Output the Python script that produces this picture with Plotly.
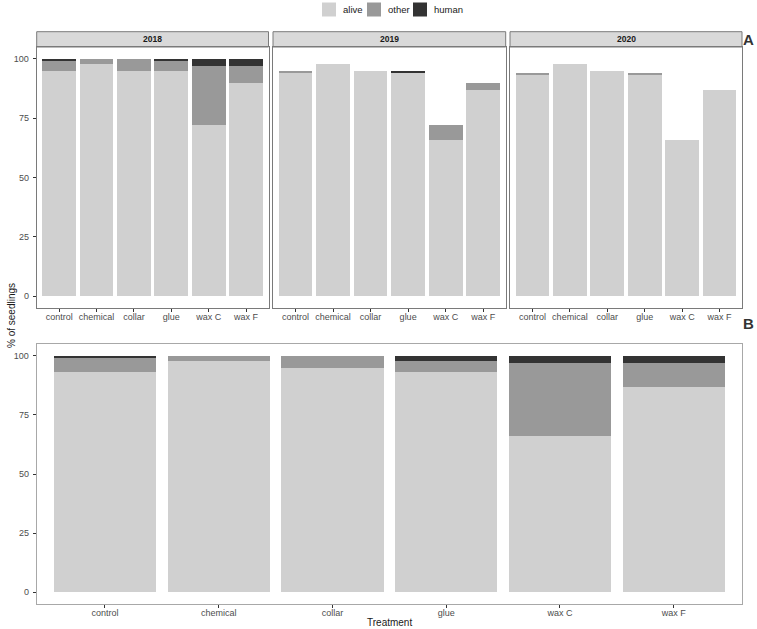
import plotly.graph_objects as go

# ---------------- data ----------------
treatments = ["control", "chemical", "collar", "glue", "wax C", "wax F"]
years = ["2018", "2019", "2020"]
series_names = ["alive", "other", "human"]

alive_2018 = [95, 98, 95, 95, 72, 90]
other_2018 = [4, 2, 5, 4, 25, 7]
human_2018 = [1, 0, 0, 1, 3, 3]

alive_2019 = [94, 98, 95, 94, 66, 87]
other_2019 = [1, 0, 0, 0, 6, 3]
human_2019 = [0, 0, 0, 1, 0, 0]

alive_2020 = [93, 98, 95, 93, 66, 87]
other_2020 = [1, 0, 0, 1, 0, 0]
human_2020 = [0, 0, 0, 0, 0, 0]

alive_all = [93, 98, 95, 93, 66, 87]
other_all = [6, 2, 5, 5, 31, 10]
human_all = [1, 0, 0, 2, 3, 3]

y_ticks = [0, 25, 50, 75, 100]

# ---------------- styling ----------------
W, H = 757, 629
colors = {"alive": "#d0d0d0", "other": "#999999", "human": "#333333"}
FONT = "Liberation Sans, Arial, sans-serif"
border_A = "#7a7a7a"
border_B = "#a8a8a8"


def px_x(v):
    return v / W


def px_y(v):
    return 1 - v / H


panel_x = [(36.7, 268.5), (273.0, 505.7), (510.0, 742.0)]
A_top, A_bot = 47.0, 308.0
strip_top = 31.7
B_x = (36.7, 742.0)
B_top, B_bot = 344.0, 604.0

fig = go.Figure()

panel_data = [
    (alive_2018, other_2018, human_2018),
    (alive_2019, other_2019, human_2019),
    (alive_2020, other_2020, human_2020),
    (alive_all, other_all, human_all),
]

for i, (a, o, h) in enumerate(panel_data):
    ax = "" if i == 0 else str(i + 1)
    for name, vals in zip(series_names, (a, o, h)):
        fig.add_trace(go.Bar(
            x=treatments, y=vals, name=name,
            marker=dict(color=colors[name], line=dict(width=0)),
            xaxis="x" + ax, yaxis="y" + ax, showlegend=False,
            hovertemplate="%{x}: %{y}%<extra>" + name + "</extra>",
        ))

tickfont = dict(family=FONT, size=9, color="#4d4d4d")

layout = dict(
    width=W, height=H,
    margin=dict(l=0, r=0, t=0, b=0),
    paper_bgcolor="white", plot_bgcolor="white",
    barmode="stack", bargap=0.1,
    font=dict(family=FONT),
)

for i in range(4):
    key = "" if i == 0 else str(i + 1)
    if i < 3:
        xd = [px_x(panel_x[i][0]), px_x(panel_x[i][1])]
        yd = [px_y(A_bot), px_y(A_top)]
        lc = border_A
    else:
        xd = [px_x(B_x[0]), px_x(B_x[1])]
        yd = [px_y(B_bot), px_y(B_top)]
        lc = border_B
    layout["xaxis" + key] = dict(
        domain=xd, anchor="y" + key, type="category",
        categoryorder="array", categoryarray=treatments,
        range=[-0.6, 5.6], showgrid=False, zeroline=False,
        showline=True, linecolor=lc, linewidth=1, mirror=True,
        ticks="outside", ticklen=3, tickcolor="#333333", tickwidth=1,
        tickfont=tickfont, fixedrange=True, ticklabelstandoff=-3,
    )
    layout["yaxis" + key] = dict(
        domain=yd, anchor="x" + key, range=[-5, 105],
        tickvals=y_ticks, showgrid=False, zeroline=False,
        showline=True, linecolor=lc, linewidth=1, mirror=True,
        ticks="outside" if i in (0, 3) else "", ticklen=3,
        tickcolor="#333333", tickwidth=1, ticklabelstandoff=2,
        showticklabels=i in (0, 3), tickfont=tickfont, fixedrange=True,
    )

fig.update_layout(**layout)

shapes = []
annotations = []

# facet strips
for (x0, x1), yr in zip(panel_x, years):
    shapes.append(dict(type="rect", xref="paper", yref="paper",
                       x0=px_x(x0), x1=px_x(x1), y0=px_y(A_top), y1=px_y(strip_top),
                       fillcolor="#d9d9d9", line=dict(color=border_A, width=1), layer="below"))
    annotations.append(dict(xref="paper", yref="paper", x=px_x((x0 + x1) / 2),
                            y=px_y((A_top + strip_top) / 2), text="<b>" + yr + "</b>",
                            showarrow=False, xanchor="center", yanchor="middle",
                            font=dict(family=FONT, size=8.5, color="#1a1a1a")))

# legend (manual)
leg_sq = [(322, "alive", 341), (367, "other", 386), (413, "human", 432)]
for sx, name, tx in leg_sq:
    shapes.append(dict(type="rect", xref="paper", yref="paper",
                       x0=px_x(sx), x1=px_x(sx + 14), y0=px_y(16.5), y1=px_y(2.5),
                       fillcolor=colors[name], line=dict(width=0)))
    annotations.append(dict(xref="paper", yref="paper", x=px_x(tx), y=px_y(9.5),
                            text=name, showarrow=False, xanchor="left", yanchor="middle",
                            font=dict(family=FONT, size=9.5, color="#1a1a1a")))

# panel labels
annotations.append(dict(xref="paper", yref="paper", x=px_x(756), y=px_y(39),
                        text="<b>A</b>", showarrow=False, xanchor="right", yanchor="middle",
                        font=dict(family=FONT, size=15, color="#333333")))
annotations.append(dict(xref="paper", yref="paper", x=px_x(756), y=px_y(323),
                        text="<b>B</b>", showarrow=False, xanchor="right", yanchor="middle",
                        font=dict(family=FONT, size=15, color="#333333")))

# axis titles
annotations.append(dict(xref="paper", yref="paper", x=px_x(12), y=px_y(316),
                        text="% of seedlings", showarrow=False, textangle=-90,
                        xanchor="center", yanchor="middle",
                        font=dict(family=FONT, size=10, color="#1a1a1a")))
annotations.append(dict(xref="paper", yref="paper", x=px_x((B_x[0] + B_x[1]) / 2), y=px_y(622.5),
                        text="Treatment", showarrow=False, xanchor="center", yanchor="middle",
                        font=dict(family=FONT, size=10, color="#1a1a1a")))

fig.update_layout(shapes=shapes, annotations=annotations)

fig.write_html("out.html",
               config={"displayModeBar": False},
               post_script="document.body.style.margin='0px';document.body.style.overflow='hidden';")
